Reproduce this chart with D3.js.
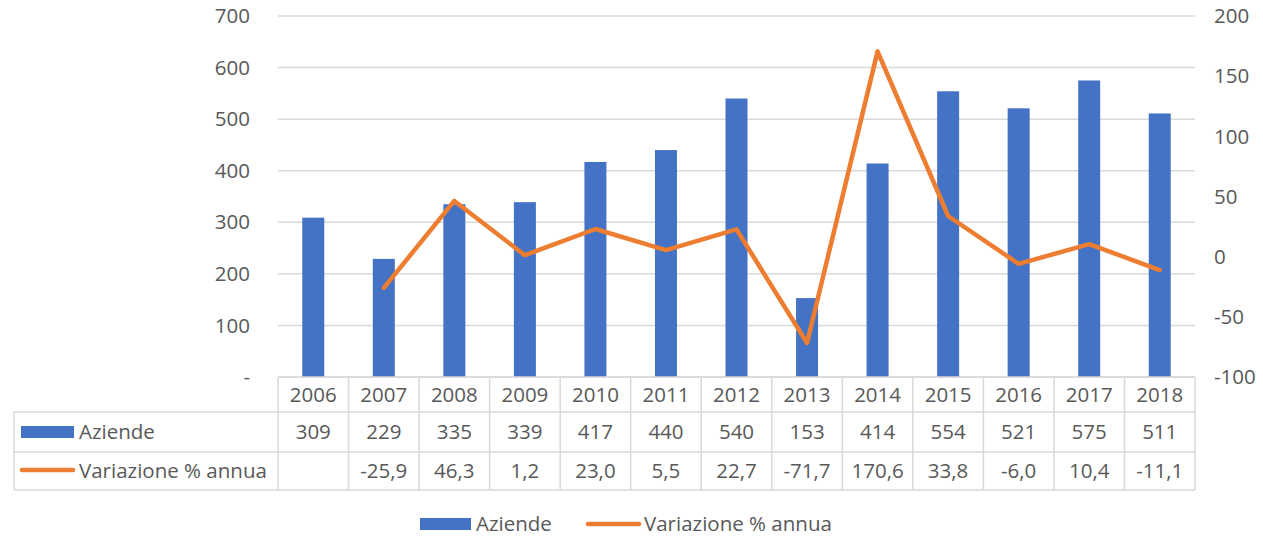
<!DOCTYPE html>
<html>
<head>
<meta charset="utf-8">
<script src="https://cdn.jsdelivr.net/npm/d3@7"></script>
<style>
  body { margin: 0; background: #fff; }
  text { font-family: "Open Sans", Lato, sans-serif; fill: #595959; }
</style>
</head>
<body>
<div id="chart"></div>
<script>
// data
var years = ["2006","2007","2008","2009","2010","2011","2012","2013","2014","2015","2016","2017","2018"];
var aziende = [309, 229, 335, 339, 417, 440, 540, 153, 414, 554, 521, 575, 511];
var variazione = [null, -25.9, 46.3, 1.2, 23.0, 5.5, 22.7, -71.7, 170.6, 33.8, -6.0, 10.4, -11.1];
var leftTicks = [0, 100, 200, 300, 400, 500, 600, 700];
var rightTicks = [-100, -50, 0, 50, 100, 150, 200];

var W = 1263, H = 536;
var plotLeft = 278, plotRight = 1195, plotTop = 16, plotBottom = 377;
var rowY = [377, 412, 452, 490];
var tableLeft = 14;
var fs = "20.5px";

var blue = "#4472C4", orange = "#ED7D31", grid = "#D9D9D9";

var svg = d3.select("#chart").append("svg")
  .attr("width", W)
  .attr("height", H);

var x = d3.scaleBand().domain(years).range([plotLeft, plotRight]);
var y = d3.scaleLinear().domain([0, 700]).range([plotBottom, plotTop]);
var y2 = d3.scaleLinear().domain([-100, 200]).range([plotBottom, plotTop]);

// gridlines
svg.append("g").selectAll("line")
  .data(leftTicks)
  .enter().append("line")
    .attr("x1", plotLeft).attr("x2", plotRight)
    .attr("y1", function(d) { return y(d); })
    .attr("y2", function(d) { return y(d); })
    .attr("stroke", grid).attr("stroke-width", 1.5);

// left axis labels
svg.append("g").selectAll("text")
  .data(leftTicks)
  .enter().append("text")
    .attr("x", 250)
    .attr("y", function(d) { return y(d); })
    .attr("dy", "0.35em")
    .attr("text-anchor", "end")
    .style("font-size", fs)
    .text(function(d) { return d === 0 ? "-" : d; });

// right axis labels
svg.append("g").selectAll("text")
  .data(rightTicks)
  .enter().append("text")
    .attr("x", 1214)
    .attr("y", function(d) { return y2(d); })
    .attr("dy", "0.35em")
    .attr("text-anchor", "start")
    .style("font-size", fs)
    .text(function(d) { return d; });

// bars
var barW = 22;
svg.append("g").selectAll("rect")
  .data(aziende)
  .enter().append("rect")
    .attr("x", function(d, i) { return x(years[i]) + x.bandwidth() / 2 - barW / 2; })
    .attr("y", function(d) { return y(d); })
    .attr("width", barW)
    .attr("height", function(d) { return y(0) - y(d); })
    .attr("fill", blue);

// line
var line = d3.line()
  .defined(function(d) { return d !== null; })
  .x(function(d, i) { return x(years[i]) + x.bandwidth() / 2; })
  .y(function(d) { return y2(d); });

svg.append("path")
  .datum(variazione)
  .attr("d", line)
  .attr("fill", "none")
  .attr("stroke", orange)
  .attr("stroke-width", 4.5)
  .attr("stroke-linejoin", "round")
  .attr("stroke-linecap", "round");

// data table
var tg = svg.append("g");
var cellStroke = "#D9D9D9";

// horizontal lines
tg.append("line").attr("x1", plotLeft).attr("x2", plotRight)
  .attr("y1", rowY[0]).attr("y2", rowY[0]).attr("stroke", cellStroke).attr("stroke-width", 1.5);
[1, 2, 3].forEach(function(k) {
  tg.append("line").attr("x1", tableLeft).attr("x2", plotRight)
    .attr("y1", rowY[k]).attr("y2", rowY[k]).attr("stroke", cellStroke).attr("stroke-width", 1.5);
});
// vertical lines
tg.append("line").attr("x1", tableLeft).attr("x2", tableLeft)
  .attr("y1", rowY[1]).attr("y2", rowY[3]).attr("stroke", cellStroke).attr("stroke-width", 1.5);
years.forEach(function(yr) {
  tg.append("line").attr("x1", x(yr)).attr("x2", x(yr))
    .attr("y1", rowY[0]).attr("y2", rowY[3]).attr("stroke", cellStroke).attr("stroke-width", 1.5);
});
tg.append("line").attr("x1", plotRight).attr("x2", plotRight)
  .attr("y1", rowY[0]).attr("y2", rowY[3]).attr("stroke", cellStroke).attr("stroke-width", 1.5);

// year labels
tg.selectAll("text.yr")
  .data(years)
  .enter().append("text")
    .attr("class", "yr")
    .attr("x", function(d) { return x(d) + x.bandwidth() / 2; })
    .attr("y", (rowY[0] + rowY[1]) / 2)
    .attr("dy", "0.35em")
    .attr("text-anchor", "middle")
    .style("font-size", fs)
    .text(function(d) { return d; });

tg.selectAll("text.az")
  .data(aziende)
  .enter().append("text")
    .attr("class", "az")
    .attr("x", function(d, i) { return x(years[i]) + x.bandwidth() / 2; })
    .attr("y", (rowY[1] + rowY[2]) / 2)
    .attr("dy", "0.35em")
    .attr("text-anchor", "middle")
    .style("font-size", fs)
    .text(function(d) { return d; });

var fmt = function(v) { return v.toFixed(1).replace(".", ","); };
tg.selectAll("text.va")
  .data(variazione)
  .enter().append("text")
    .attr("class", "va")
    .attr("x", function(d, i) { return x(years[i]) + x.bandwidth() / 2; })
    .attr("y", (rowY[2] + rowY[3]) / 2)
    .attr("dy", "0.35em")
    .attr("text-anchor", "middle")
    .style("font-size", fs)
    .text(function(d) { return d === null ? "" : fmt(d); });

// row headers
tg.append("rect").attr("x", 21).attr("y", 426).attr("width", 53).attr("height", 12).attr("fill", blue);
tg.append("text").attr("x", 79).attr("y", (rowY[1] + rowY[2]) / 2).attr("dy", "0.35em")
  .style("font-size", fs).text("Aziende");
tg.append("line").attr("x1", 22).attr("x2", 73).attr("y1", 470).attr("y2", 470)
  .attr("stroke", orange).attr("stroke-width", 4.5).attr("stroke-linecap", "round");
tg.append("text").attr("x", 79).attr("y", (rowY[2] + rowY[3]) / 2).attr("dy", "0.35em")
  .style("font-size", fs).text("Variazione % annua");

// legend
var lg = svg.append("g");
lg.append("rect").attr("x", 420).attr("y", 518).attr("width", 51).attr("height", 12).attr("fill", blue);
lg.append("text").attr("x", 476).attr("y", 524).attr("dy", "0.35em")
  .style("font-size", fs).text("Aziende");
lg.append("line").attr("x1", 588).attr("x2", 639).attr("y1", 524).attr("y2", 524)
  .attr("stroke", orange).attr("stroke-width", 4.5).attr("stroke-linecap", "round");
lg.append("text").attr("x", 644).attr("y", 524).attr("dy", "0.35em")
  .style("font-size", fs).text("Variazione % annua");
</script>
</body>
</html>
